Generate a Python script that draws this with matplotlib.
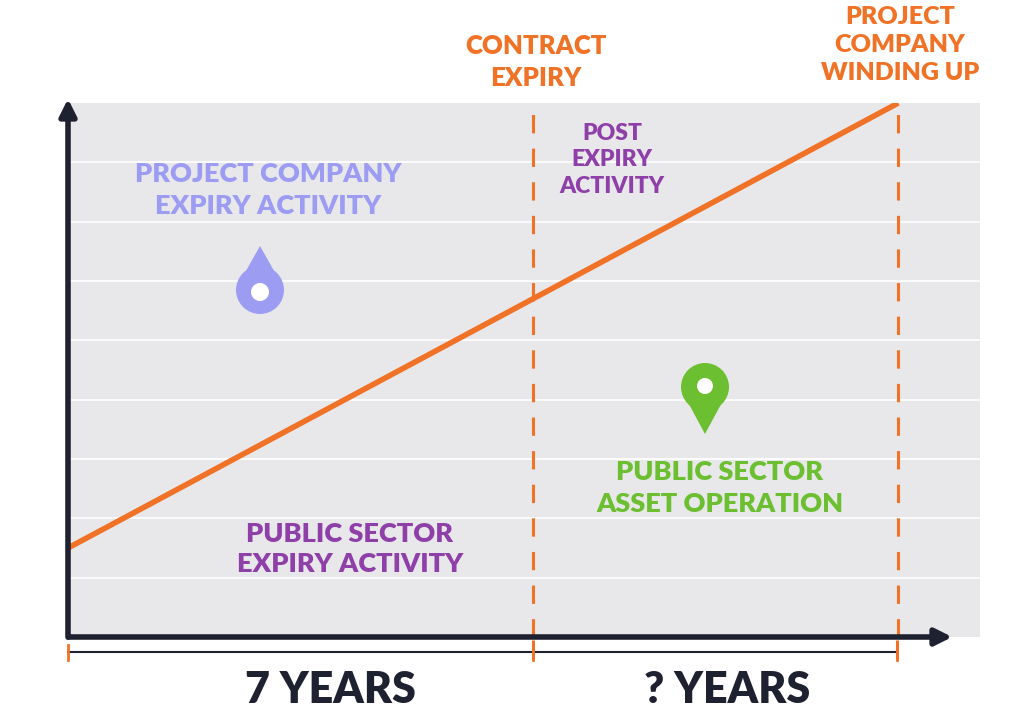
import matplotlib
matplotlib.use("Agg")
import matplotlib.pyplot as plt
from matplotlib.patches import Polygon, Circle

plt.rcParams['font.family'] = ['Lato', 'DejaVu Sans']

# timeline data (years / activity level)
contract_expiry = 7.0
winding_up = 12.5
line_years = [0.0, winding_up]
line_level = [1.5, 9.0]
grid_levels = [1, 2, 3, 4, 5, 6, 7, 8]
span_labels = ["7 YEARS", "? YEARS"]

ORANGE = "#f07226"
PURPLE = "#8e3fa8"
LAVENDER = "#9c9cf2"
GREEN = "#6cbf30"
DARK = "#1e2130"

W, H = 1024, 715
fig = plt.figure(figsize=(W / 100, H / 100), dpi=100)

# overlay in pixel coordinates for annotations
ov = fig.add_axes([0, 0, 1, 1])
ov.set_xlim(0, W)
ov.set_ylim(H, 0)
ov.axis("off")

# main plot region
x0, x1, ytop, ybot = 68, 980, 103, 637
ax = fig.add_axes([x0 / W, 1 - ybot / H, (x1 - x0) / W, (ybot - ytop) / H])
ax.set_facecolor("#e8e8ea")
ax.set_xlim(0, 13.73)
ax.set_ylim(0, 9)
for s in ax.spines.values():
    s.set_visible(False)
ax.set_xticks([])
ax.set_yticks([])
for g in grid_levels:
    ax.axhline(g, color="white", lw=1.2, zorder=1)
ax.plot(line_years, line_level, color=ORANGE, lw=4, solid_capstyle="butt", zorder=3)
for xv in (contract_expiry, winding_up):
    ax.axvline(xv, color=ORANGE, lw=2.2, dashes=(6, 5), zorder=2, clip_on=False)
ax.set_zorder(1)
ov.set_zorder(2)

# axes arrows
ov.annotate("", xy=(68, 96), xytext=(68, 640),
            arrowprops=dict(arrowstyle="-|>,head_width=0.5,head_length=1.0", color=DARK, lw=4))
ov.annotate("", xy=(955, 637), xytext=(66, 637),
            arrowprops=dict(arrowstyle="-|>,head_width=0.5,head_length=1.0", color=DARK, lw=4))

# dashed lines below the axis
for px in (533, 897):
    ov.plot([px, px], [640, 662], color=ORANGE, lw=2.2, dashes=(6, 5))

# bracket
ov.plot([68, 897], [652, 652], color=DARK, lw=1.5)
for px in (68, 533, 897):
    ov.plot([px, px], [645, 660], color=ORANGE, lw=2)

ov.text(330, 690, span_labels[0], ha="center", va="center", fontsize=31, fontweight="heavy", color=DARK)
ov.text(727, 690, span_labels[1], ha="center", va="center", fontsize=31, fontweight="heavy", color=DARK)

tk = dict(ha="center", va="center", fontweight="heavy", linespacing=1.35)
ov.text(536, 62, "CONTRACT\nEXPIRY", color=ORANGE, fontsize=18.5, **tk)
ov.text(900, 45, "PROJECT\nCOMPANY\nWINDING UP", color=ORANGE, fontsize=18, **tk)
ov.text(268, 190, "PROJECT COMPANY\nEXPIRY ACTIVITY", color=LAVENDER, fontsize=19.5, **tk)
ov.text(612, 160, "POST\nEXPIRY\nACTIVITY", color=PURPLE, fontsize=16.5, **tk)
ov.text(350, 549, "PUBLIC SECTOR\nEXPIRY ACTIVITY", color=PURPLE, fontsize=19.5, **tk)
ov.text(720, 488, "PUBLIC SECTOR\nASSET OPERATION", color=GREEN, fontsize=19.5, **tk)

# drop icon
ov.add_patch(Polygon([[260, 246], [238, 285], [282, 285]], closed=True, color=LAVENDER, lw=0))
ov.add_patch(Circle((260, 290), 24, color=LAVENDER, lw=0))
ov.add_patch(Circle((260, 292), 9, color="white", lw=0))

# pin icon
ov.add_patch(Polygon([[684, 395], [705, 434], [726, 395]], closed=True, color=GREEN, lw=0))
ov.add_patch(Circle((705, 387), 24, color=GREEN, lw=0))
ov.add_patch(Circle((705, 386), 8, color="white", lw=0))

fig.savefig("out.png", dpi=100, facecolor="white")
